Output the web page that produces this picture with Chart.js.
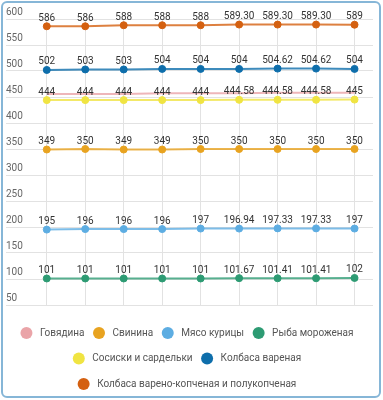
<!DOCTYPE html>
<html><head><meta charset="utf-8">
<script src="https://cdn.jsdelivr.net/npm/chart.js@4/dist/chart.umd.min.js"></script>
<style>
html,body{margin:0;padding:0;background:#fff;}
#wrap{position:absolute;left:0;top:0;width:383px;height:400px;}
#frame{position:absolute;left:1px;top:1px;width:376px;height:393px;border:2px solid #86b6d7;border-radius:6px;pointer-events:none;}
</style></head><body>
<div id="wrap"><canvas id="c" width="383" height="400"></canvas></div>
<div id="frame"></div>
<script>
const periods = [1, 2, 3, 4, 5, 6, 7, 8, 9];
const seriesNames = ['Говядина', 'Свинина', 'Мясо курицы', 'Рыба мороженая', 'Сосиски и сардельки', 'Колбаса вареная', 'Колбаса варено-копченая и полукопченая'];
const seriesColors = ['rgb(234,164,168)', 'rgb(232,163,32)', 'rgb(93,173,226)', 'rgb(45,155,115)', 'rgb(240,228,66)', 'rgb(14,110,171)', 'rgb(212,96,16)'];
const beef = [456, 456, 456, 457, 457, 457, 458, 458, 458];
const pork = [349, 350, 349, 349, 350, 350, 350, 350, 350];
const chicken = [195, 196, 196, 196, 197, 196.94, 197.33, 197.33, 197];
const fish = [101, 101, 101, 101, 101, 101.67, 101.41, 101.41, 102];
const sausages = [444, 444, 444, 444, 444, 444.58, 444.58, 444.58, 445];
const boiledSausage = [502, 503, 503, 504, 504, 504, 504.62, 504.62, 504];
const smokedSausage = [586, 586, 588, 588, 588, 589.30, 589.30, 589.30, 589];
const yTicks = [50, 100, 150, 200, 250, 300, 350, 400, 450, 500, 550, 600];

const seriesValues = [beef, pork, chicken, fish, sausages, boiledSausage, smokedSausage];
const showLabels = [false, true, true, true, true, true, true];

function withAlpha(c, a) { return c.replace('rgb(', 'rgba(').replace(')', ',' + a + ')'); }

const datasets = seriesValues.map((vals, i) => ({
  label: seriesNames[i],
  data: vals.map((v, j) => ({ x: periods[j], y: v })),
  borderColor: withAlpha(seriesColors[i], 0.8),
  backgroundColor: seriesColors[i],
  pointBackgroundColor: seriesColors[i],
  pointBorderColor: seriesColors[i],
  pointBorderWidth: 1,
  pointRadius: showLabels[i] ? 3.5 : 0,
  borderWidth: 2,
  tension: 0,
  showValues: showLabels[i]
}));

const valueLabels = {
  id: 'valueLabels',
  afterDatasetsDraw(chart) {
    const ctx = chart.ctx;
    ctx.save();
    ctx.font = '10px Roboto';
    ctx.fillStyle = '#333';
    ctx.textAlign = 'center';
    ctx.textBaseline = 'middle';
    chart.data.datasets.forEach((ds, di) => {
      if (!ds.showValues) return;
      const meta = chart.getDatasetMeta(di);
      meta.data.forEach((pt, i) => {
        const v = ds.data[i].y;
        const t = Number.isInteger(v) ? String(v) : v.toFixed(2);
        ctx.fillText(t, pt.x, pt.y - 8);
      });
    });
    ctx.restore();
  }
};

const customLegend = {
  id: 'customLegend',
  afterDraw(chart) {
    const ctx = chart.ctx;
    ctx.save();
    ctx.font = '10px Roboto';
    ctx.textBaseline = 'middle';
    ctx.textAlign = 'left';
    const r = 6, toText = 13.5, gap = 14.5, maxW = 350;
    const items = chart.data.datasets.map((ds, i) => ({ text: ds.label, color: seriesColors[i], w: ctx.measureText(ds.label).width }));
    const rows = [];
    let cur = [], curW = 0;
    items.forEach(it => {
      const iw = r + toText + it.w;
      const add = cur.length ? gap - r + iw : iw;
      if (cur.length && curW + add > maxW) { rows.push({ items: cur, w: curW }); cur = []; curW = 0; }
      curW += cur.length ? gap - r + iw : iw;
      cur.push(it);
    });
    if (cur.length) rows.push({ items: cur, w: curW });
    const cx = 187, y0 = 333, rowH = 25.5;
    rows.forEach((row, ri) => {
      let x = cx - row.w / 2;
      const y = y0 + ri * rowH;
      row.items.forEach((it, k) => {
        if (k > 0) x += gap - r;
        ctx.beginPath();
        ctx.fillStyle = it.color;
        ctx.arc(x + r, y, r, 0, Math.PI * 2);
        ctx.fill();
        ctx.fillStyle = '#555';
        ctx.fillText(it.text, x + r + toText, y);
        x += r + toText + it.w;
      });
    });
    ctx.restore();
  }
};

Chart.defaults.font.family = 'Roboto';
new Chart(document.getElementById('c'), {
  type: 'line',
  data: { datasets },
  plugins: [valueLabels, customLegend],
  options: {
    responsive: false,
    devicePixelRatio: 1,
    animation: false,
    layout: { padding: { top: 19, bottom: 95, left: 6, right: 10 } },
    plugins: { legend: { display: false }, tooltip: { enabled: false } },
    scales: {
      x: {
        type: 'linear',
        min: -0.06,
        max: 9.48,
        afterBuildTicks: s => { s.ticks = periods.map(v => ({ value: v })); },
        ticks: { display: false },
        grid: { color: '#e2e2e2', drawTicks: false },
        border: { display: false }
      },
      y: {
        min: 50,
        max: 600,
        afterBuildTicks: s => { s.ticks = yTicks.map(v => ({ value: v })); },
        ticks: { mirror: true, padding: 0, labelOffset: -6.5, color: '#666', font: { size: 10 } },
        grid: { color: '#e2e2e2', drawTicks: false },
        border: { display: false }
      }
    }
  }
});
</script>
</body></html>
